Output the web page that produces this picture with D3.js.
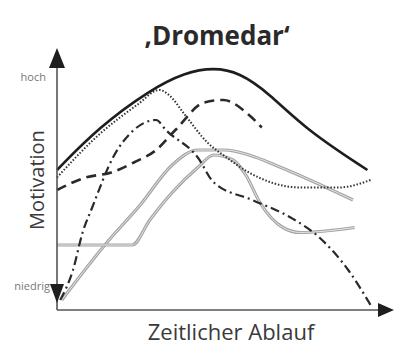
<!DOCTYPE html>
<html>
<head>
<meta charset="utf-8">
<script src="https://cdn.jsdelivr.net/npm/d3@7"></script>
<style>
  body { margin: 0; background: #fff; }
  svg { font-family: "Open Sans", sans-serif; }
</style>
</head>
<body>
<script>
// curves: [time, motivation], both 0..100
var solidLine = [[0,56],[13,73],[29,88],[40,95],[49,97],[57,95],[66,87],[78,72],[97,56]];
var dottedLine = [[0,53],[13,70],[25,82],[32,88],[35,86],[40,78],[47,67],[53,61],[60,55],[76,49],[88,49],[98,52]];
var dashedLine = [[0,48],[9,53],[17,55],[24,59],[31,64],[37,72],[46,83],[52,84],[60,78],[64,73]];
var dashDotLine = [[1,4],[5,16],[8,31],[11,41],[17.5,61],[24,72],[31,76],[34,72],[44,61],[49,51],[61,44],[73,37],[82,29],[91,16],[98,2]];
var grayLineA = [[1.5,4],[15.6,27],[26,42],[36,58],[44,64],[52.5,64],[60,62],[70,57],[92.5,44]];
var grayLineB = [[0,26],[23.5,26],[29,36],[36,47],[44,57],[49,62],[55,60],[59,54],[63.4,43],[70.6,33],[76,31],[93,33]];

var title = "\u201aDromedar\u2018";
var yLabel = "Motivation";
var xLabel = "Zeitlicher Ablauf";
var yTop = "hoch", yBottom = "niedrig";

var width = 398, height = 348;
var x = d3.scaleLinear().domain([0, 100]).range([57, 377]);
var y = d3.scaleLinear().domain([0, 100]).range([310, 60]);

var svg = d3.select("body").append("svg")
    .attr("width", width)
    .attr("height", height);

var line = d3.line()
    .x(function(d) { return x(d[0]); })
    .y(function(d) { return y(d[1]); })
    .curve(d3.curveMonotoneX);

var smoothLine = d3.line()
    .x(function(d) { return x(d[0]); })
    .y(function(d) { return y(d[1]); })
    .curve(d3.curveBasis);

// gray "hollow" lines
[grayLineA, grayLineB].forEach(function(data) {
    svg.append("path")
        .datum(data)
        .attr("fill", "none")
        .attr("stroke", "#a4a4a4")
        .attr("stroke-width", 3.2)
        .attr("d", line);
    svg.append("path")
        .datum(data)
        .attr("fill", "none")
        .attr("stroke", "#e6e6e6")
        .attr("stroke-width", 1)
        .attr("d", line);
});

svg.append("path")
    .datum(dashDotLine)
    .attr("fill", "none")
    .attr("stroke", "#2a2a2a")
    .attr("stroke-width", 2.2)
    .attr("stroke-dasharray", "9,4,2,4")
    .attr("d", line);

svg.append("path")
    .datum(dashedLine)
    .attr("fill", "none")
    .attr("stroke", "#2a2a2a")
    .attr("stroke-width", 2.6)
    .attr("stroke-dasharray", "10,6")
    .attr("d", line);

svg.append("path")
    .datum(dottedLine)
    .attr("fill", "none")
    .attr("stroke", "#333")
    .attr("stroke-width", 2)
    .attr("stroke-dasharray", "1.5,1.8")
    .attr("d", line);

svg.append("path")
    .datum(solidLine)
    .attr("fill", "none")
    .attr("stroke", "#1e1e1e")
    .attr("stroke-width", 2.6)
    .attr("d", smoothLine);

// axes without ticks
svg.append("g")
    .attr("transform", "translate(0," + y(0) + ")")
    .call(d3.axisBottom(x).tickValues([]).tickSizeOuter(0))
    .select(".domain")
    .attr("stroke", "#555")
    .attr("stroke-width", 1.6)
    .attr("d", "M" + x(0) + ",0H" + (x(100) + 10));

svg.append("g")
    .attr("transform", "translate(" + x(0) + ",0)")
    .call(d3.axisLeft(y).tickValues([]).tickSizeOuter(0))
    .select(".domain")
    .attr("stroke", "#555")
    .attr("stroke-width", 1.6)
    .attr("d", "M0," + y(0) + "V" + (y(100) - 2));

// arrow heads
var x0 = x(0), y0 = y(0);
svg.append("path")
    .attr("fill", "#1e1e1e")
    .attr("d", "M" + x0 + "," + (y(100) - 12) + "L" + (x0 - 8) + "," + (y(100) + 8) + "L" + (x0 + 8) + "," + (y(100) + 8) + "Z");
svg.append("path")
    .attr("fill", "#1e1e1e")
    .attr("d", "M" + x0 + "," + (y0 - 7) + "L" + (x0 - 7) + "," + (y0 - 26) + "L" + (x0 + 7) + "," + (y0 - 26) + "Z");
svg.append("path")
    .attr("fill", "#1e1e1e")
    .attr("d", "M" + (x(100) + 17) + "," + y0 + "L" + (x(100) + 1) + "," + (y0 - 7) + "L" + (x(100) + 1) + "," + (y0 + 7) + "Z");

// texts
svg.append("text")
    .attr("x", 217)
    .attr("y", 45)
    .attr("text-anchor", "middle")
    .attr("font-size", 26)
    .attr("font-weight", "bold")
    .attr("fill", "#2a2a2a")
    .text(title);

svg.append("text")
    .attr("x", 231)
    .attr("y", 340)
    .attr("text-anchor", "middle")
    .attr("font-size", 22)
    .attr("fill", "#3a3a3a")
    .text(xLabel);

svg.append("text")
    .attr("transform", "translate(44,180) rotate(-90)")
    .attr("text-anchor", "middle")
    .attr("font-size", 20)
    .attr("fill", "#3a3a3a")
    .text(yLabel);

svg.append("text")
    .attr("x", 46)
    .attr("y", 81)
    .attr("text-anchor", "end")
    .attr("font-size", 11)
    .attr("fill", "#777")
    .text(yTop);

svg.append("text")
    .attr("x", 50)
    .attr("y", 290)
    .attr("text-anchor", "end")
    .attr("font-size", 11)
    .attr("fill", "#777")
    .text(yBottom);
</script>
</body>
</html>
